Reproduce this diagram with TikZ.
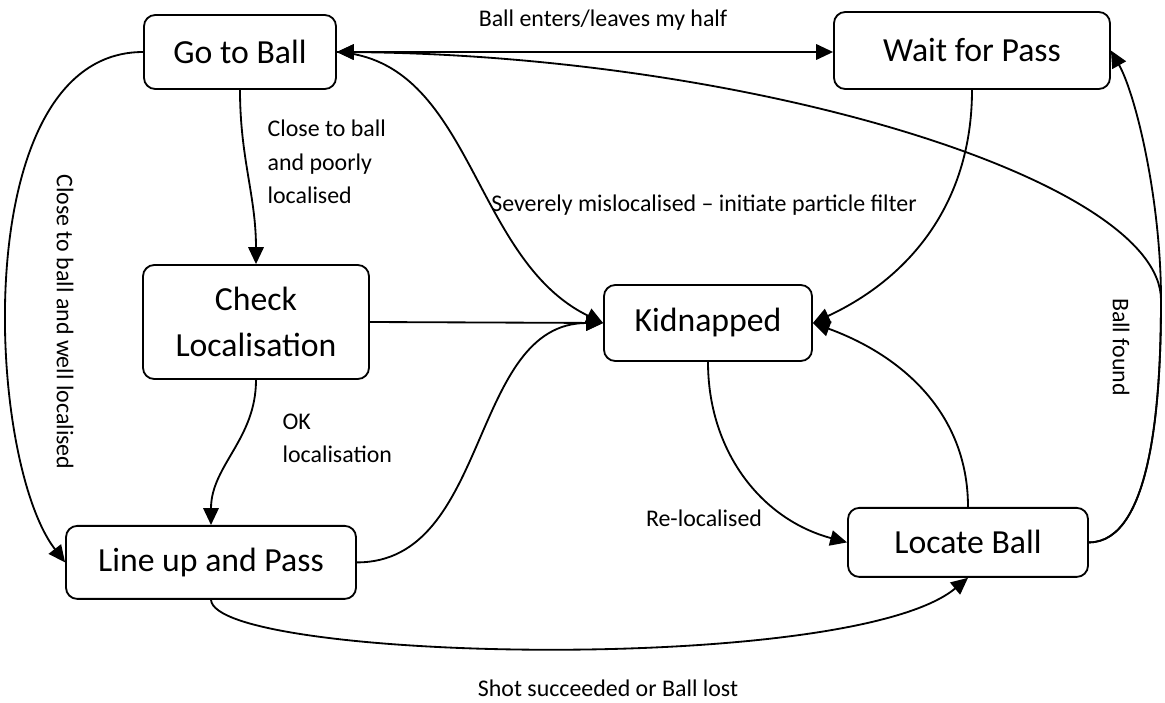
\documentclass[tikz,border=0pt]{standalone}
\usepackage{fontspec}
\setmainfont{Carlito}
\usetikzlibrary{arrows.meta}

\begin{document}
\begin{tikzpicture}[>={Triangle[length=12pt,width=11pt]}, line width=1.3pt,
  statebox/.style={draw,rounded corners=8pt,align=center,inner sep=0pt,font=\fontsize{24}{33}\selectfont},
  lbl/.style={font=\fontsize{17}{24}\selectfont}]
\useasboundingbox (0,0) rectangle (29.125,-17.55);

% states
\node[statebox,minimum width=4.8cm,minimum height=1.85cm] (goball) at (6.0,-1.3) {Go to Ball};
\node[statebox,minimum width=6.9cm,minimum height=1.925cm] (waitpass) at (24.3,-1.2625) {Wait for Pass};
\node[statebox,minimum width=5.65cm,minimum height=2.85cm] (checkloc) at (6.4,-8.05) {Check\\Localisation};
\node[statebox,minimum width=7.25cm,minimum height=1.825cm] (lineup) at (5.275,-14.06) {Line up and Pass};
\node[statebox,minimum width=5.2cm,minimum height=1.9cm] (kidnap) at (17.7,-8.075) {Kidnapped};
\node[statebox,minimum width=6.0cm,minimum height=1.725cm] (locball) at (24.2,-13.56) {Locate Ball};

\coordinate (split) at (29.025,-7.5);

% transitions
\draw[<->] (goball.east) -- (waitpass.west |- goball.east);
\draw[->] (goball.south) to[out=-90,in=90] (checkloc.north);
\draw[->] (goball.west) .. controls +(-4.4,0) and +(-2.0,2.6) .. (lineup.west);
\draw[->] (goball.east) .. controls +(3.4,-0.2) and +(-3.3,1.6) .. (kidnap.west);
\draw[->] (checkloc.east) -- (kidnap.west);
\draw[->] (checkloc.south) to[out=-90,in=90] (lineup.north);
\draw[->] (lineup.east) to[out=0,in=180] (kidnap.west);
\draw[->] (waitpass.south) to[out=-90,in=25] (kidnap.east);
\draw[->] (kidnap.south) to[out=-90,in=165] (locball.west);
\draw[->] (locball.north) to[out=90,in=-20] (kidnap.east);
\draw[->] (lineup.south) .. controls +(0.1,-1.525) and +(-2.95,-2.45) .. (locball.south);
\draw[->] (locball.east) .. controls +(1.575,0) and +(0,-2.5) .. (split)
  .. controls +(0,2.5) and +(0.625,-1.11) .. (waitpass.east);
\draw[->] (locball.east) .. controls +(1.575,0) and +(0,-2.5) .. (split)
  .. controls +(0,3) and +(10.35,-0.075) .. (goball.east);

% labels
\node[lbl] (lhalf) at (15.075,-0.5) {Ball enters/leaves my half};
\node[lbl,anchor=west,align=left] (lpoor) at (6.55,-4.05) {Close to ball\\and poorly\\localised};
\node[lbl,rotate=-90] (lwell) at (1.625,-8.05) {Close to ball and well localised};
\node[lbl] (lsevere) at (17.6,-5.125) {Severely mislocalised – initiate particle filter};
\node[lbl,anchor=west,align=left] (lok) at (6.925,-10.96) {OK\\localisation};
\node[lbl] (lreloc) at (17.6,-12.95) {Re-localised};
\node[lbl,rotate=-90] (lfound) at (28.025,-8.675) {Ball found};
\node[lbl] (lshot) at (15.2,-17.2) {Shot succeeded or Ball lost};
\end{tikzpicture}
\end{document}
